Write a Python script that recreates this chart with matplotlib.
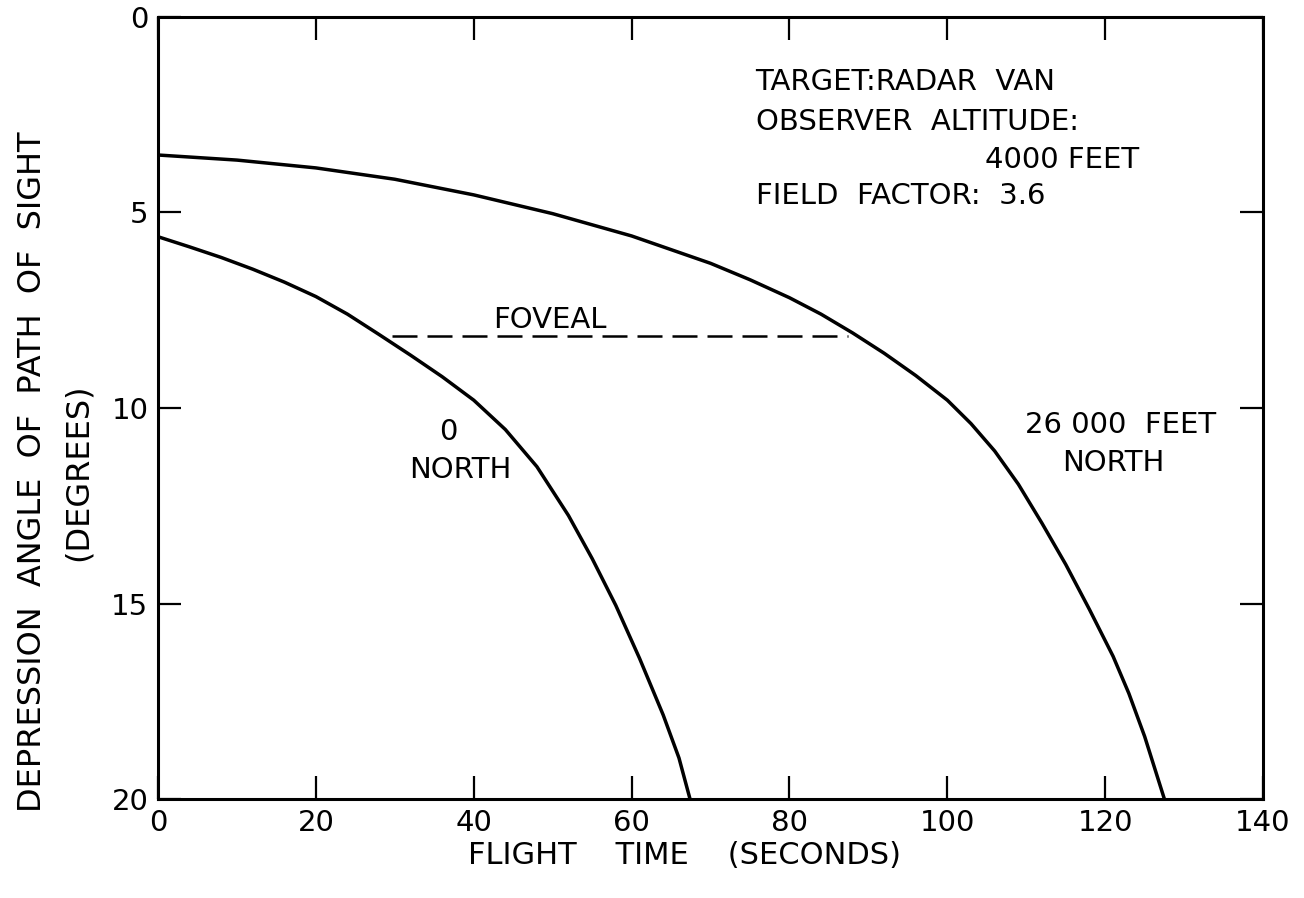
import matplotlib.pyplot as plt

plt.rcParams['font.family'] = 'DejaVu Sans'
plt.rcParams['font.size'] = 21

# flight time (s) vs depression angle (deg), 0 ft north
t_0n = [0, 4, 8, 12, 16, 20, 24, 28, 32, 36, 40, 44, 48, 52, 55, 58, 61, 64, 66, 67.4]
a_0n = [5.62, 5.88, 6.15, 6.45, 6.78, 7.15, 7.6, 8.12, 8.65, 9.2, 9.8, 10.55, 11.5,
        12.75, 13.85, 15.05, 16.4, 17.85, 18.95, 20.0]

# 26 000 ft north
t_26n = [0, 10, 20, 30, 40, 50, 60, 70, 75, 80, 84, 88, 92, 96, 100, 103, 106, 109,
         112, 115, 118, 121, 123, 125, 127.5]
a_26n = [3.53, 3.66, 3.86, 4.15, 4.55, 5.03, 5.6, 6.3, 6.72, 7.18, 7.6, 8.08, 8.6,
         9.17, 9.8, 10.4, 11.1, 11.95, 12.95, 14.0, 15.15, 16.35, 17.3, 18.4, 20.0]

# foveal limit
fov_t = [29.6, 87.4]
fov_a = [8.17, 8.17]

xticks = [0, 20, 40, 60, 80, 100, 120, 140]
yticks = [0, 5, 10, 15, 20]

fig = plt.figure(figsize=(13.04, 8.98), dpi=100)
ax = fig.add_axes([0.1212, 0.1102, 0.8474, 0.8709])

ax.plot(t_0n, a_0n, color='black', lw=2.5, solid_joinstyle='round')
ax.plot(t_26n, a_26n, color='black', lw=2.5, solid_joinstyle='round')
ax.plot(fov_t, fov_a, color='black', lw=1.8, ls=(0, (10, 4)))

ax.set_xlim(0, 140)
ax.set_ylim(20, 0)
ax.set_xticks(xticks)
ax.set_yticks(yticks)
ax.tick_params(direction='in', length=16.5, width=1.6, top=True, right=True,
               labelsize=21, pad=7)
for s in ax.spines.values():
    s.set_linewidth(2.2)

ax.set_xlabel('FLIGHT    TIME    (SECONDS)', fontsize=22)
ax.xaxis.set_label_coords(0.476, -0.054)
ax.text(-0.093, 0.418, 'DEPRESSION  ANGLE  OF  PATH  OF  SIGHT\n(DEGREES)',
        transform=ax.transAxes, rotation=90, ha='center', va='center',
        multialignment='center', linespacing=1.6, fontsize=23)

ax.text(75.7, 1.67, 'TARGET:RADAR  VAN', va='center', ha='left')
ax.text(75.7, 2.69, 'OBSERVER  ALTITUDE:', va='center', ha='left')
ax.text(124.3, 3.66, '4000 FEET', va='center', ha='right')
ax.text(75.7, 4.58, 'FIELD  FACTOR:  3.6', va='center', ha='left')

ax.text(49.7, 7.75, 'FOVEAL', ha='center', va='center')
ax.text(36.8, 10.61, '0', ha='center', va='center')
ax.text(38.3, 11.59, 'NORTH', ha='center', va='center')
ax.text(121.9, 10.43, '26 000  FEET', ha='center', va='center')
ax.text(121.0, 11.41, 'NORTH', ha='center', va='center')

fig.savefig('out.png', dpi=100, facecolor='white')
